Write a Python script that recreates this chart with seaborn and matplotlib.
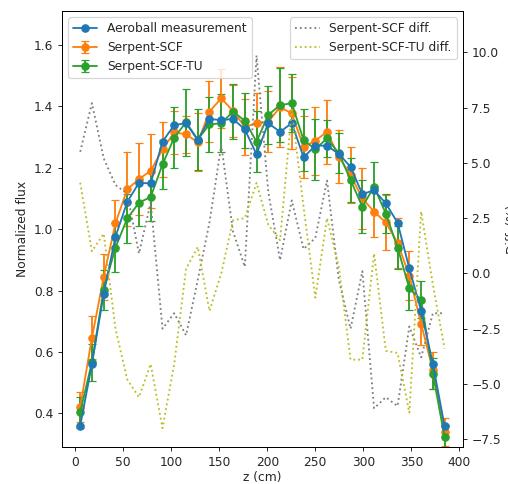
import numpy as np
import matplotlib
matplotlib.use("Agg")
import matplotlib.pyplot as plt
import seaborn as sns

# axial positions (cm)
z = [5.2, 17.4, 29.7, 41.9, 54.2, 66.4, 78.6, 90.9, 103.1, 115.4, 127.6,
     139.8, 152.1, 164.3, 176.6, 188.8, 201.0, 213.3, 225.5, 237.8, 250.0,
     262.2, 274.5, 286.7, 299.0, 311.2, 323.4, 335.7, 347.9, 360.2, 372.4,
     384.6]

aeroball = [0.36, 0.56, 0.79, 0.975, 1.089, 1.151, 1.149, 1.285, 1.339, 1.345,
            1.29, 1.359, 1.355, 1.359, 1.325, 1.244, 1.345, 1.317, 1.345,
            1.234, 1.272, 1.272, 1.245, 1.203, 1.114, 1.127, 1.084, 1.021,
            0.872, 0.734, 0.562, 0.359]

scf = [0.421, 0.646, 0.845, 1.019, 1.13, 1.163, 1.19, 1.26, 1.315, 1.309,
       1.283, 1.383, 1.426, 1.385, 1.333, 1.345, 1.35, 1.397, 1.377, 1.268,
       1.288, 1.317, 1.236, 1.176, 1.10, 1.057, 1.022, 0.955, 0.848, 0.692,
       0.541, 0.339]
scf_err = [0.05, 0.07, 0.075, 0.077, 0.12, 0.117, 0.12, 0.09, 0.07, 0.06,
           0.095, 0.1, 0.095, 0.085, 0.092, 0.1, 0.1, 0.13, 0.117, 0.1, 0.11,
           0.105, 0.086, 0.09, 0.1, 0.082, 0.09, 0.08, 0.08, 0.07, 0.06, 0.045]

scf_tu = [0.404, 0.567, 0.803, 0.94, 1.035, 1.086, 1.105, 1.211, 1.298, 1.348,
          1.292, 1.341, 1.345, 1.383, 1.353, 1.285, 1.372, 1.404, 1.41, 1.29,
          1.26, 1.296, 1.247, 1.16, 1.073, 1.138, 1.051, 0.94, 0.807, 0.77,
          0.53, 0.323]
scf_tu_err = [0.05, 0.06, 0.065, 0.08, 0.08, 0.075, 0.08, 0.08, 0.1, 0.11, 0.1,
              0.09, 0.095, 0.09, 0.09, 0.1, 0.095, 0.12, 0.095, 0.1, 0.1, 0.06,
              0.065, 0.073, 0.087, 0.082, 0.062, 0.07, 0.07, 0.06, 0.05, 0.04]

# relative differences (%)
scf_diff = [5.5, 7.7, 5.2, 4.0, 3.6, 0.9, 3.2, -2.5, -1.8, -2.8, -0.3, 2.3,
            5.8, 1.9, 0.3, 9.85, 3.7, 0.6, 3.3, 1.1, 1.6, 4.2, -0.3, -2.5, 0.1,
            -6.1, -5.6, -6.0, -2.4, -3.8, -1.8, -1.8]
scf_tu_diff = [4.1, 1.0, 1.8, -2.5, -4.8, -5.6, -4.1, -7.0, -4.1, 0.2, 1.2,
               -1.7, 0.0, 2.4, 2.5, 4.1, 2.2, 1.5, 7.4, 3.0, -1.1, 2.5, 0.3,
               -3.9, -3.9, 0.9, -3.5, -3.6, -6.3, 2.8, -0.5, -3.4]

sns.set_style("ticks")
plt.rcParams['font.family'] = ['DejaVu Sans']

DPI = 88
fig, ax = plt.subplots(figsize=(508 / DPI, 484 / DPI), dpi=DPI)
fig.subplots_adjust(left=0.122, right=0.911, bottom=0.076, top=0.977)

ax.errorbar(z, scf, yerr=scf_err, fmt='-o', color='tab:orange', capsize=3,
            markersize=6, label='Serpent-SCF')
ax.errorbar(z, scf_tu, yerr=scf_tu_err, fmt='-o', color='tab:green', capsize=3,
            markersize=6, label='Serpent-SCF-TU')
sns.lineplot(x=z, y=aeroball, ax=ax, color='tab:blue', marker='o',
             markersize=6, markeredgecolor='tab:blue', markeredgewidth=1,
             zorder=3, label='Aeroball measurement')

ax.set_ylim(0.29, 1.71)
ax.set_xlabel('z (cm)', labelpad=1.5)
ax.set_ylabel('Normalized flux')
ax.legend(loc='upper left')

ax2 = ax.twinx()
sns.lineplot(x=z, y=scf_diff, ax=ax2, color='tab:gray', linestyle=':',
             label='Serpent-SCF diff.')
sns.lineplot(x=z, y=scf_tu_diff, ax=ax2, color='tab:olive', linestyle=':',
             label='Serpent-SCF-TU diff.')
ax2.set_ylim(-7.86, 11.86)
ax2.set_ylabel('Diff. (%)')
ax2.legend(loc='upper right')

for a in (ax, ax2):
    for s in a.spines.values():
        s.set_visible(True)
        s.set_color('black')
        s.set_linewidth(0.8)

fig.savefig('out.png', dpi=DPI)
